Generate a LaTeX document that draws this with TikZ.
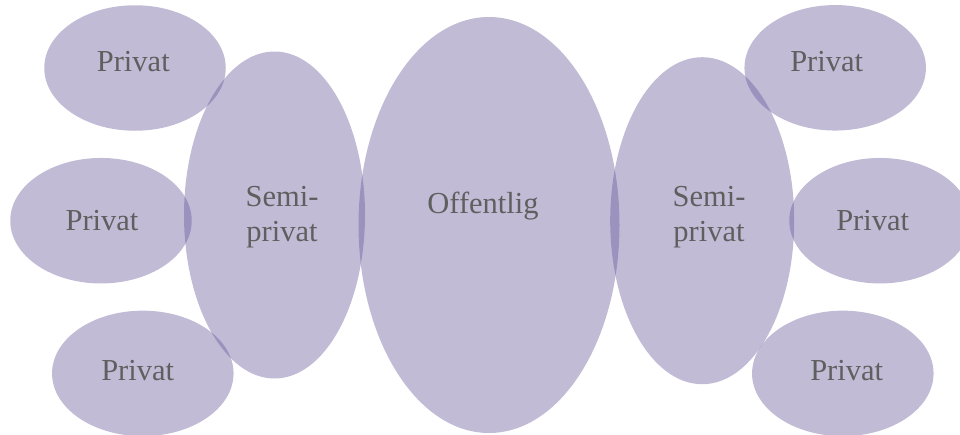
\documentclass[tikz,border=0pt]{standalone}
\usepackage{fontspec}
\setmainfont{Liberation Serif}
\usetikzlibrary{shapes.geometric}
\definecolor{blobfill}{RGB}{96,81,150}
\definecolor{labelgray}{RGB}{95,95,95}
\tikzset{
  blob/.style={ellipse, inner sep=0pt, draw=none, fill=blobfill, fill opacity=0.39},
  privblob/.style={blob, minimum width=181.5pt, minimum height=125.5pt},
  semiblob/.style={blob, minimum height=327pt},
  lbl/.style={text=labelgray, font=\fontsize{30.5}{35}\selectfont, inner sep=0pt},
}
\begin{document}
\begin{tikzpicture}[x=1pt, y=-1pt]
\useasboundingbox (0,0) rectangle (960,434);
\clip (0,0) rectangle (960,434);
% ellipses
\node[blob, minimum width=261pt, minimum height=416pt] (off) at (489,225) {};
\node[semiblob, minimum width=181pt] (semiL) at (274.5,215) {};
\node[semiblob, minimum width=184pt] (semiR) at (702.2,220.7) {};
\node[privblob] (pTL) at (135,68) {};
\node[privblob] (pML) at (101,220.7) {};
\node[privblob] (pBL) at (142.8,373.4) {};
\node[privblob] (pTR) at (835.2,67.8) {};
\node[privblob] (pMR) at (880,220.7) {};
\node[privblob] (pBR) at (842.8,373.4) {};
% labels
\node[lbl, anchor=base] (tTL) at (133.3,71.7) {Privat};
\node[lbl, anchor=base] (tML) at (102,230) {Privat};
\node[lbl, anchor=base] (tBL) at (137.7,380) {Privat};
\node[lbl, anchor=base] (tTR) at (826.7,71.7) {Privat};
\node[lbl, anchor=base] (tMR) at (872.7,230) {Privat};
\node[lbl, anchor=base] (tBR) at (846.7,380) {Privat};
\node[lbl, anchor=base] (tOff) at (483,213.3) {Offentlig};
\node[lbl, align=center] (tSL) at (282,217.5) {Semi-\\privat};
\node[lbl, align=center] (tSR) at (709,217.5) {Semi-\\privat};
\end{tikzpicture}
\end{document}
